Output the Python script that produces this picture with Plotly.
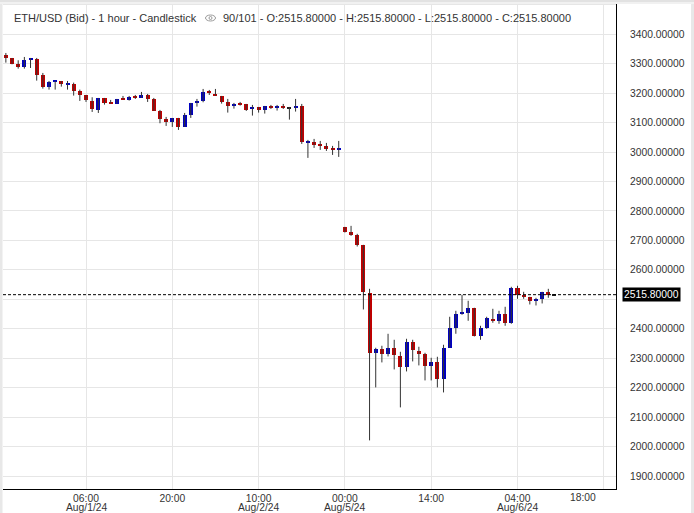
import plotly.graph_objects as go

# ---------------- data (hourly bars, weekend gap removed) ----------------
opens = [3329.8, 3319.6, 3299.2, 3289.0, 3312.8, 3316.2, 3261.9, 3222.3, 3238.1, 3241.5,
         3229.0, 3232.5, 3208.7, 3194.0, 3174.8, 3143.1, 3183.8, 3168.0, 3164.6, 3181.6,
         3177.1, 3188.4, 3183.8, 3194.0, 3180.5, 3139.7, 3112.6, 3102.4, 3116.0, 3085.4,
         3126.2, 3166.9, 3172.5, 3204.2, 3197.4, 3190.6, 3170.3, 3156.7, 3164.6, 3163.5,
         3146.5, 3153.3, 3143.1, 3156.7, 3149.9, 3153.3, 3149.9, 3149.9, 3156.7, 3032.3,
         3034.5, 3024.4, 3021.0, 3010.8, 3007.4, 2746.1, 2729.1, 2719.0, 2685.0, 2522.2,
         2316.3, 2332.1, 2312.9, 2335.5, 2308.4, 2268.8, 2355.9, 2325.3, 2315.2, 2272.2,
         2288.1, 2228.1, 2335.5, 2403.4, 2450.9, 2454.3, 2471.3, 2376.3, 2403.4, 2434.0,
         2427.2, 2451.0, 2420.4, 2539.2, 2515.4, 2508.6, 2492.8, 2499.6, 2525.6, 2515.8]
highs = [3336.5, 3319.6, 3311.7, 3323.0, 3319.6, 3319.6, 3268.7, 3241.5, 3241.5, 3241.5,
         3241.5, 3235.9, 3212.1, 3194.0, 3186.1, 3183.8, 3183.8, 3177.1, 3180.5, 3190.6,
         3190.6, 3194.0, 3204.2, 3197.4, 3183.8, 3143.1, 3119.4, 3116.0, 3116.0, 3132.9,
         3166.9, 3180.5, 3214.4, 3211.0, 3214.4, 3190.6, 3180.5, 3166.9, 3170.3, 3163.5,
         3160.1, 3153.3, 3156.7, 3160.1, 3160.1, 3163.5, 3153.3, 3180.5, 3163.5, 3041.3,
         3044.7, 3037.9, 3031.1, 3021.0, 3037.9, 2746.1, 2749.5, 2722.4, 2685.0, 2535.7,
         2335.5, 2342.3, 2383.0, 2362.7, 2321.9, 2366.1, 2362.7, 2338.9, 2318.5, 2301.6,
         2305.0, 2345.7, 2440.8, 2461.1, 2515.4, 2495.1, 2471.3, 2410.2, 2440.8, 2467.9,
         2461.1, 2474.7, 2542.5, 2546.0, 2525.6, 2508.6, 2505.2, 2525.6, 2535.7, 2515.8]
lows = [3303.7, 3298.1, 3283.4, 3283.4, 3285.6, 3242.7, 3215.5, 3212.1, 3212.1, 3222.3,
        3212.1, 3191.8, 3173.7, 3170.3, 3136.3, 3132.9, 3161.2, 3164.6, 3164.6, 3178.2,
        3174.8, 3180.5, 3183.8, 3170.3, 3139.7, 3097.9, 3088.8, 3085.4, 3075.3, 3085.4,
        3116.0, 3154.4, 3169.1, 3194.0, 3190.6, 3164.6, 3134.1, 3147.6, 3157.8, 3139.7,
        3123.9, 3134.1, 3130.7, 3146.5, 3140.9, 3146.5, 3110.3, 3137.5, 3027.7, 2980.3,
        3014.2, 3007.4, 3004.0, 2990.4, 2983.6, 2726.9, 2715.6, 2679.4, 2465.6, 2021.1,
        2200.9, 2285.8, 2306.1, 2262.0, 2133.1, 2255.2, 2289.2, 2275.6, 2224.7, 2224.7,
        2200.9, 2183.9, 2335.5, 2383.1, 2447.5, 2427.2, 2374.0, 2362.7, 2400.0, 2420.4,
        2417.0, 2410.2, 2417.0, 2501.8, 2501.8, 2482.6, 2479.2, 2486.0, 2505.2, 2515.8]
closes = [3320.7, 3300.3, 3290.2, 3312.8, 3316.2, 3263.0, 3222.3, 3238.1, 3241.5, 3231.4,
          3232.5, 3208.7, 3194.0, 3177.1, 3146.5, 3183.8, 3168.0, 3164.6, 3180.5, 3178.2,
          3187.2, 3185.0, 3194.0, 3180.5, 3139.7, 3113.7, 3102.4, 3116.0, 3085.4, 3126.2,
          3166.9, 3173.7, 3203.1, 3200.8, 3190.6, 3170.3, 3156.7, 3163.5, 3161.2, 3143.1,
          3149.9, 3143.1, 3156.7, 3149.9, 3153.3, 3149.9, 3149.9, 3156.7, 3034.5, 3035.7,
          3024.4, 3021.0, 3010.8, 3007.4, 3014.2, 2730.3, 2719.0, 2685.0, 2523.3, 2316.3,
          2332.1, 2312.9, 2335.5, 2309.5, 2268.8, 2355.9, 2326.5, 2315.2, 2272.2, 2288.1,
          2228.1, 2335.5, 2403.4, 2450.9, 2454.3, 2471.3, 2374.0, 2403.4, 2437.4, 2427.2,
          2451.0, 2420.4, 2539.2, 2515.4, 2509.7, 2492.8, 2501.8, 2525.6, 2515.8, 2515.8]

bar_index = list(range(len(opens)))

x_tick_index = [13, 27, 41, 55, 69, 83, 97]
x_tick_time = ["06:00", "20:00", "10:00", "00:00", "14:00", "04:00", "18:00"]
x_tick_date = ["Aug/1/24", "", "Aug/2/24", "Aug/5/24", "", "Aug/6/24", ""]

y_tick_vals = [1900, 2000, 2100, 2200, 2300, 2400, 2500, 2600, 2700, 2800,
               2900, 3000, 3100, 3200, 3300, 3400, 3500]
last_price = 2515.8

title_left = "ETH/USD (Bid) - 1 hour - Candlestick"
title_right = "90/101 - O:2515.80000 - H:2515.80000 - L:2515.80000 - C:2515.80000"

# ---------------- styling ----------------
FONT = "Arial, Liberation Sans, sans-serif"
UP = "#0000c0"
DOWN = "#c00000"
FLAT = "#202020"
WICK = "#333333"
TXT = "#333333"
FS = 10.3

W, H = 694, 513
ML, MR, MT, MB = 3, 78, 0, 24
PW, PH = W - ML - MR, H - MT - MB


def px(xp):
    return (xp - ML) / PW


def py(yp):
    return 1 - (yp - MT) / PH


colors, bases, heights = [], [], []
for o, c in zip(opens, closes):
    colors.append(UP if c > o else (DOWN if c < o else FLAT))
    lo = min(o, c)
    h = abs(c - o)
    if h < 3.4:
        lo = (o + c) / 2 - 1.7
        h = 3.4
    bases.append(lo)
    heights.append(h)

wx, wy = [], []
for i, hi, lo in zip(bar_index, highs, lows):
    wx += [i, i, None]
    wy += [lo, hi, None]

fig = go.Figure()
fig.add_trace(go.Scatter(x=wx, y=wy, mode="lines", line=dict(color=WICK, width=1),
                         hoverinfo="skip", showlegend=False))
fig.add_trace(go.Bar(x=bar_index, y=heights, base=bases, width=0.65,
                     marker=dict(color=colors, line=dict(width=0)),
                     hoverinfo="skip", showlegend=False))

fig.update_layout(
    width=W, height=H,
    margin=dict(l=ML, r=MR, t=MT, b=MB, pad=0, autoexpand=False),
    paper_bgcolor="white", plot_bgcolor="white",
    font=dict(family=FONT, size=FS, color=TXT),
    showlegend=False,
    bargap=0,
)
# last time label is nudged left by the original chart, so drawn as annotation
fig.update_xaxes(
    range=[-0.465, 98.98], showgrid=True, gridcolor="#e6e6e6", gridwidth=1,
    zeroline=False, showline=True, linecolor="black", linewidth=1,
    tickmode="array", tickvals=x_tick_index, ticktext=x_tick_time[:-1] + [""],
    ticks="", tickfont=dict(size=FS, color=TXT), automargin=False,
)
fig.update_yaxes(
    range=[1856.0, 3516.4], side="right", showgrid=True, gridcolor="#e6e6e6", gridwidth=1,
    zeroline=False, showline=True, linecolor="black", linewidth=1,
    tickmode="array", tickvals=y_tick_vals,
    ticktext=["" if v == 2500 else f"{v:.5f}" for v in y_tick_vals],
    ticks="", ticklabelstandoff=11, tickfont=dict(size=FS, color=TXT),
    automargin=False,
)

shapes = [
    dict(type="line", xref="paper", x0=0, x1=1, yref="y", y0=last_price, y1=last_price,
         line=dict(color="black", width=1, dash="3px,2px")),
    # frame decorations
    dict(type="rect", xref="paper", yref="paper", x0=px(0), x1=px(2.5), y0=py(H), y1=py(0),
         fillcolor="#e8e8e8", line=dict(width=0), layer="above"),
    dict(type="rect", xref="paper", yref="paper", x0=px(691), x1=px(694), y0=py(H), y1=py(0),
         fillcolor="#e8e8e8", line=dict(width=0), layer="above"),
    dict(type="rect", xref="paper", yref="paper", x0=px(0), x1=px(694), y0=py(2), y1=py(0),
         fillcolor="#e2e2e2", line=dict(width=0), layer="above"),
    dict(type="rect", xref="paper", yref="paper", x0=px(0), x1=px(694), y0=py(4), y1=py(2),
         fillcolor="#f1f1f1", line=dict(width=0), layer="above"),
    # eye icon
    dict(type="circle", xref="paper", yref="paper", x0=px(205.5), x1=px(215.5),
         y0=py(21), y1=py(15), line=dict(color="#9a9a9a", width=1), layer="above"),
    dict(type="circle", xref="paper", yref="paper", x0=px(209), x1=px(212),
         y0=py(19.5), y1=py(16.5), line=dict(color="#9a9a9a", width=1), layer="above"),
]
fig.update_layout(shapes=shapes)

annotations = [
    dict(text=title_left, xref="paper", yref="paper", x=px(12), y=py(18),
         xanchor="left", yanchor="middle", showarrow=False,
         font=dict(family=FONT, size=11, color=TXT)),
    dict(text=title_right, xref="paper", yref="paper", x=px(221), y=py(18),
         xanchor="left", yanchor="middle", showarrow=False,
         font=dict(family=FONT, size=11, color=TXT)),
    dict(text=f"{last_price:.5f}", xref="paper", yref="y", x=1, y=last_price,
         xanchor="left", yanchor="middle", xshift=6, showarrow=False,
         bgcolor="black", borderpad=1,
         font=dict(family=FONT, size=FS, color="white")),
    dict(text=x_tick_time[-1], xref="x", yref="paper", x=x_tick_index[-1], y=0, xshift=-21,
         xanchor="center", yanchor="top", yshift=-1, showarrow=False,
         font=dict(family=FONT, size=FS, color=TXT)),
]
for xv, d in zip(x_tick_index, x_tick_date):
    if d:
        annotations.append(dict(text=d, xref="x", yref="paper", x=xv, y=0,
                                xanchor="center", yanchor="top", yshift=-11.5,
                                showarrow=False, borderpad=0,
                                font=dict(family=FONT, size=FS, color=TXT)))
fig.update_layout(annotations=annotations)

fig.write_html(
    "out.html",
    config={"displayModeBar": False},
    post_script="document.body.style.margin='0';document.body.style.padding='0';"
                "document.documentElement.style.overflow='hidden';",
)
